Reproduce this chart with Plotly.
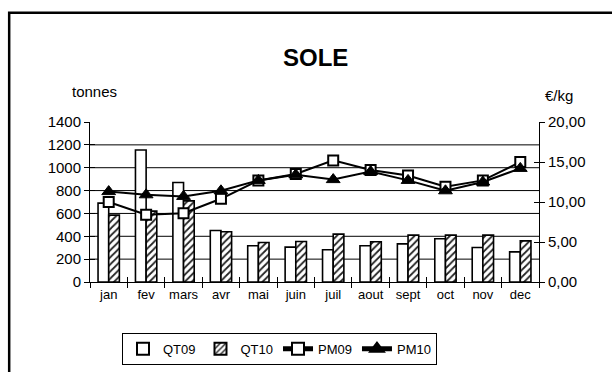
import plotly.graph_objects as go

months = ["jan", "fev", "mars", "avr", "mai", "juin", "juil", "aout", "sept", "oct", "nov", "dec"]
qt09 = [690, 1155, 870, 450, 317, 305, 282, 317, 334, 378, 302, 264]
qt10 = [585, 620, 710, 440, 346, 354, 419, 352, 410, 410, 410, 360]
pm09 = [10.0, 8.4, 8.6, 10.4, 12.7, 13.5, 15.2, 14.0, 13.3, 11.9, 12.7, 15.0]
pm10 = [11.3, 10.9, 10.7, 11.4, 12.7, 13.4, 12.8, 13.8, 12.7, 11.4, 12.5, 14.2]
left_ticks = [0, 200, 400, 600, 800, 1000, 1200, 1400]
right_ticks = [0, 5, 10, 15, 20]
grid_vals = [200, 400, 600, 800, 1000, 1200]

FONT = "Liberation Sans, Arial, sans-serif"

fig = go.Figure()
fig.add_trace(go.Bar(
    x=months, y=qt09, name="QT09",
    marker=dict(color="white", line=dict(color="black", width=1.6)),
))
fig.add_trace(go.Bar(
    x=months, y=qt10, name="QT10",
    marker=dict(color="white", line=dict(color="black", width=1.6),
                pattern=dict(shape="/", fgcolor="#222222", bgcolor="white", size=5, solidity=0.35)),
))
fig.add_trace(go.Scatter(
    x=months, y=pm09, name="PM09", yaxis="y2", mode="lines+markers",
    line=dict(color="black", width=2),
    marker=dict(symbol="square", size=10, color="white", line=dict(color="black", width=2)),
))
fig.add_trace(go.Scatter(
    x=months, y=pm10, name="PM10", yaxis="y2", mode="lines+markers",
    line=dict(color="black", width=2),
    marker=dict(symbol="triangle-up", size=12, color="black", line=dict(color="black", width=1)),
))
# empty helper traces so the inner tick-mark axes (crossing ticks) are drawn
fig.add_trace(go.Scatter(x=[], y=[], yaxis="y3", showlegend=False, hoverinfo="skip"))
fig.add_trace(go.Scatter(x=[], y=[], yaxis="y4", showlegend=False, hoverinfo="skip"))
fig.add_trace(go.Scatter(x=[], y=[], xaxis="x2", showlegend=False, hoverinfo="skip"))

shapes = []
for g in grid_vals:
    shapes.append(dict(type="line", xref="paper", x0=0, x1=1, yref="y", y0=g, y1=g,
                       line=dict(color="black", width=1), layer="below"))
# outer frame
shapes.append(dict(type="rect", xref="paper", yref="paper", x0=-0.18, x1=1.2, y0=-0.7, y1=1.683,
                   line=dict(color="black", width=2.5), fillcolor="rgba(0,0,0,0)", layer="below"))

tick_common = dict(ticklen=5, tickcolor="black", showgrid=False, zeroline=False, automargin=False)

fig.update_layout(
    template="none",
    width=612, height=372,
    margin=dict(l=90, r=73, t=122, b=90, autoexpand=False),
    paper_bgcolor="white", plot_bgcolor="white",
    font=dict(family=FONT, size=15, color="black"),
    separators=", ",
    barmode="group", bargap=0.43, bargroupgap=0,
    showlegend=True,
    legend=dict(orientation="h", x=0.422, xanchor="center", y=-0.417, yanchor="middle",
                bordercolor="black", borderwidth=1, font=dict(size=13), bgcolor="white",
                itemsizing="constant", tracegroupgap=0),
    xaxis=dict(type="category", categoryarray=months, range=[-0.5, 11.5], showline=True,
               linecolor="black", linewidth=1, ticks="outside", tickson="boundaries",
               tickfont=dict(size=13), tickangle=0, **tick_common),
    xaxis2=dict(type="category", categoryarray=months, range=[-0.5, 11.5], overlaying="x",
                side="bottom", showline=False, ticks="inside", tickson="boundaries",
                showticklabels=False, **tick_common),
    yaxis=dict(range=[0, 1400], tickvals=left_ticks, showline=True, linecolor="black", linewidth=1,
               ticks="outside", tickfont=dict(size=15), **tick_common),
    yaxis2=dict(range=[0, 20], tickvals=right_ticks, tickformat=".2f", overlaying="y",
                side="right", showline=True, linecolor="black", linewidth=1, ticks="outside",
                tickfont=dict(size=15), **tick_common),
    yaxis3=dict(range=[0, 1400], tickvals=left_ticks, overlaying="y", side="left", showline=False,
                ticks="inside", showticklabels=False, **tick_common),
    yaxis4=dict(range=[0, 20], tickvals=right_ticks, overlaying="y", side="right", showline=False,
                ticks="inside", showticklabels=False, **tick_common),
    shapes=shapes,
    annotations=[
        dict(text="<b>SOLE</b>", xref="paper", yref="paper", x=0.503, y=1.402, showarrow=False,
             xanchor="center", yanchor="middle", font=dict(size=24)),
        dict(text="tonnes", xref="paper", yref="paper", x=0.009, y=1.19, showarrow=False,
             xanchor="center", yanchor="middle", font=dict(size=15)),
        dict(text="€/kg", xref="paper", yref="paper", x=1.045, y=1.164, showarrow=False,
             xanchor="center", yanchor="middle", font=dict(size=15)),
    ],
)

fig.write_html("out.html", config={"displayModeBar": False},
               post_script="document.body.style.margin='0';")
